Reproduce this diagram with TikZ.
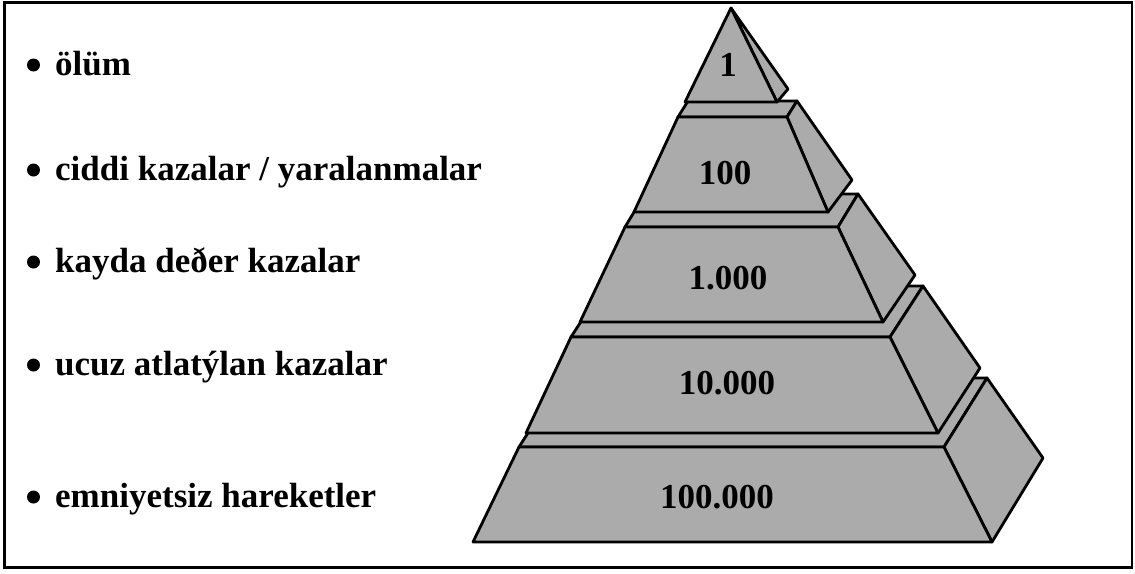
\documentclass[tikz,border=0pt]{standalone}
\usepackage{fontspec}
\setmainfont{Liberation Serif}
\usetikzlibrary{positioning}
\definecolor{pyrgray}{gray}{0.67}

\begin{document}
\begin{tikzpicture}[x=1pt, y=-1pt,
  face/.style={draw, fill=pyrgray, line width=2.8pt, line join=round},
  item/.style={anchor=base west, inner sep=0pt, font=\fontsize{35}{40}\selectfont\bfseries},
  num/.style={inner sep=0pt, font=\fontsize{35}{40}\selectfont\bfseries},
  dot/.style={circle, fill, inner sep=0pt, minimum size=13pt}
]
  \useasboundingbox (0,0) rectangle (1135,573);
  \draw[line width=2.6pt] (4.5,2.5) rectangle (1132,567.5);

  % list on the left
  \node[item] (t1) at (55,75) {ölüm};
  \node[item] (t2) at (55,180) {ciddi kazalar / yaralanmalar};
  \node[item] (t3) at (55,272) {kayda deðer kazalar};
  \node[item] (t4) at (55,375) {ucuz atlatýlan kazalar};
  \node[item] (t5) at (55,507) {emniyetsiz hareketler};
  \foreach \i/\y in {1/65, 2/170, 3/262, 4/365, 5/497}
    \node[dot] (b\i) at (33.5,\y) {};

  % tier 5 (bottom)
  \coordinate (p5tl) at (519,447); \coordinate (p5tr) at (944,447);
  \coordinate (p5br) at (992,542); \coordinate (p5bl) at (473,542);
  \coordinate (p5kl) at (563,378); \coordinate (p5kr) at (987,378);
  \coordinate (p5s) at (1043,458);
  \draw[face] (p5tl) -- (p5tr) -- (p5kr) -- (p5kl) -- cycle;
  \draw[face] (p5tr) -- (p5kr) -- (p5s) -- (p5br) -- cycle;
  \draw[face] (p5tl) -- (p5tr) -- (p5br) -- (p5bl) -- cycle;
  \node[num] (n5) at (717,497) {100.000};

  % tier 4
  \coordinate (p4tl) at (571,337); \coordinate (p4tr) at (890,337);
  \coordinate (p4br) at (938,433); \coordinate (p4bl) at (526,433);
  \coordinate (p4kl) at (604,286); \coordinate (p4kr) at (923,286);
  \coordinate (p4s) at (980,368);
  \draw[face] (p4tl) -- (p4tr) -- (p4kr) -- (p4kl) -- cycle;
  \draw[face] (p4tr) -- (p4kr) -- (p4s) -- (p4br) -- cycle;
  \draw[face] (p4tl) -- (p4tr) -- (p4br) -- (p4bl) -- cycle;
  \node[num] (n4) at (727,383) {10.000};

  % tier 3
  \coordinate (p3tl) at (625,227); \coordinate (p3tr) at (838,227);
  \coordinate (p3br) at (883,322); \coordinate (p3bl) at (580,322);
  \coordinate (p3kl) at (645,194); \coordinate (p3kr) at (858,194);
  \coordinate (p3s) at (915,275);
  \draw[face] (p3tl) -- (p3tr) -- (p3kr) -- (p3kl) -- cycle;
  \draw[face] (p3tr) -- (p3kr) -- (p3s) -- (p3br) -- cycle;
  \draw[face] (p3tl) -- (p3tr) -- (p3br) -- (p3bl) -- cycle;
  \node[num] (n3) at (728,278) {1.000};

  % tier 2
  \coordinate (p2tl) at (678,117); \coordinate (p2tr) at (787,117);
  \coordinate (p2br) at (828,212); \coordinate (p2bl) at (634,212);
  \coordinate (p2kl) at (688,101); \coordinate (p2kr) at (797,101);
  \coordinate (p2s) at (852,180);
  \draw[face] (p2tl) -- (p2tr) -- (p2kr) -- (p2kl) -- cycle;
  \draw[face] (p2tr) -- (p2kr) -- (p2s) -- (p2br) -- cycle;
  \draw[face] (p2tl) -- (p2tr) -- (p2br) -- (p2bl) -- cycle;
  \node[num] (n2) at (725,173) {100};

  % tier 1 (top)
  \coordinate (p1a) at (731,8); \coordinate (p1l) at (685,102);
  \coordinate (p1r) at (777,102); \coordinate (p1s) at (788,89);
  \draw[face] (p1a) -- (p1s) -- (p1r) -- cycle;
  \draw[face] (p1a) -- (p1r) -- (p1l) -- cycle;
  \node[num] (n1) at (728,65) {1};
\end{tikzpicture}
\end{document}
